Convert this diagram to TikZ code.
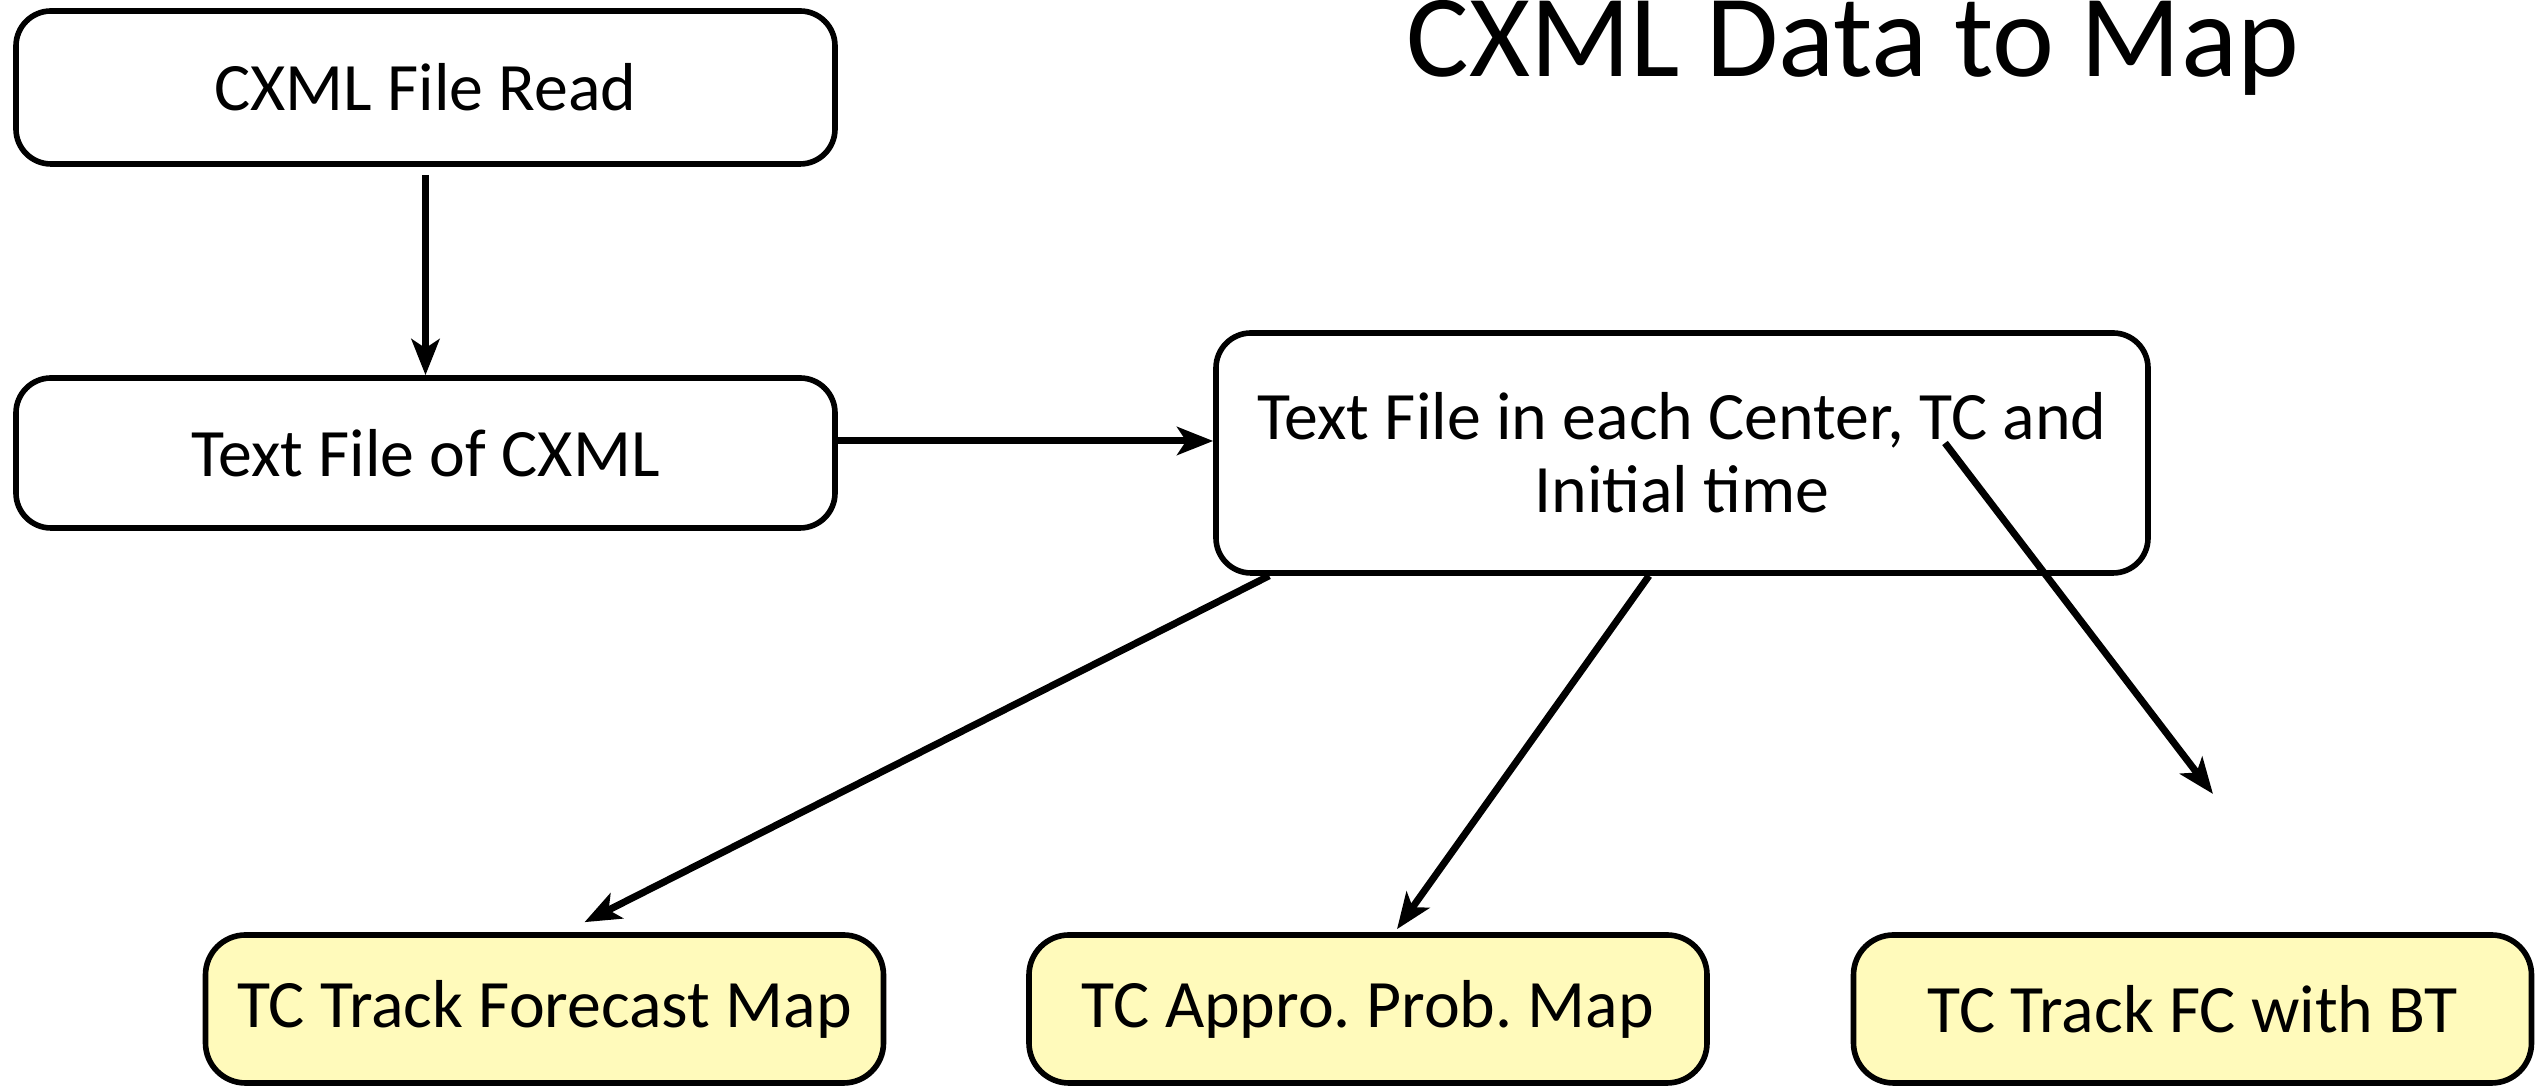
\documentclass[tikz,border=0pt]{standalone}
\usepackage{fontspec}
\setmainfont{Carlito}
\frenchspacing
\usetikzlibrary{arrows.meta}
\definecolor{mapyellow}{RGB}{255,250,187}
\tikzstyle{block} = [rectangle, draw, line width=1.6pt, rounded corners=0.35cm,
    inner sep=0pt, align=center, font=\fontsize{19.3pt}{20.7pt}\selectfont]
\tikzstyle{result} = [block, fill=mapyellow, minimum width=6.78cm,
    minimum height=1.48cm, rounded corners=0.4cm]
\tikzstyle{title} = [font=\fontsize{33.4pt}{36pt}\selectfont, anchor=base]

\begin{document}
\begin{tikzpicture}[auto, node distance=2cm, >={Stealth[length=0.36cm,width=0.28cm,inset=0.09cm]}, line width=2pt]
    \useasboundingbox (0,0) rectangle (25.42,10.86);

    % Nodes
    \node [title] (head) at (18.53,10.09) {CXML Data to Map};
    \node [block, minimum width=8.19cm, minimum height=1.53cm] (read) at (4.255,9.985) {CXML File Read};
    \node [block, below of=read, node distance=3.655cm, minimum width=8.19cm, minimum height=1.5cm] (txt) {Text File of CXML};
    \node [block, right of=txt, node distance=12.565cm, minimum width=9.32cm, minimum height=2.4cm] (split) {Text File in each Center, TC and\\Initial time};
    \node [result] (track) at (5.445,0.77) {TC Track Forecast Map};
    \node [result, right of=track, node distance=8.235cm] (prob) {TC Appro. Prob. Map};
    \node [result, right of=prob, node distance=8.245cm] (bt) {TC Track FC with BT};
    \coordinate (tcmark) at (19.45,6.43);
    \coordinate (loose) at (22.13,2.92);

    % Connections
    \draw [->] ([yshift=-0.08cm]read.south) -- (txt.north);
    \draw [->] ([yshift=1.2mm]txt.east) -- ([yshift=1.2mm]split.west);
    \draw [->] ([xshift=0.56cm]split.south west) -- ([xshift=0.4cm,yshift=0.1cm]track.north);
    \draw [->] ([xshift=-0.33cm]split.south) -- ([xshift=0.29cm,yshift=0.03cm]prob.north);
    \draw [->] (tcmark) -- (loose);

\end{tikzpicture}
\end{document}
